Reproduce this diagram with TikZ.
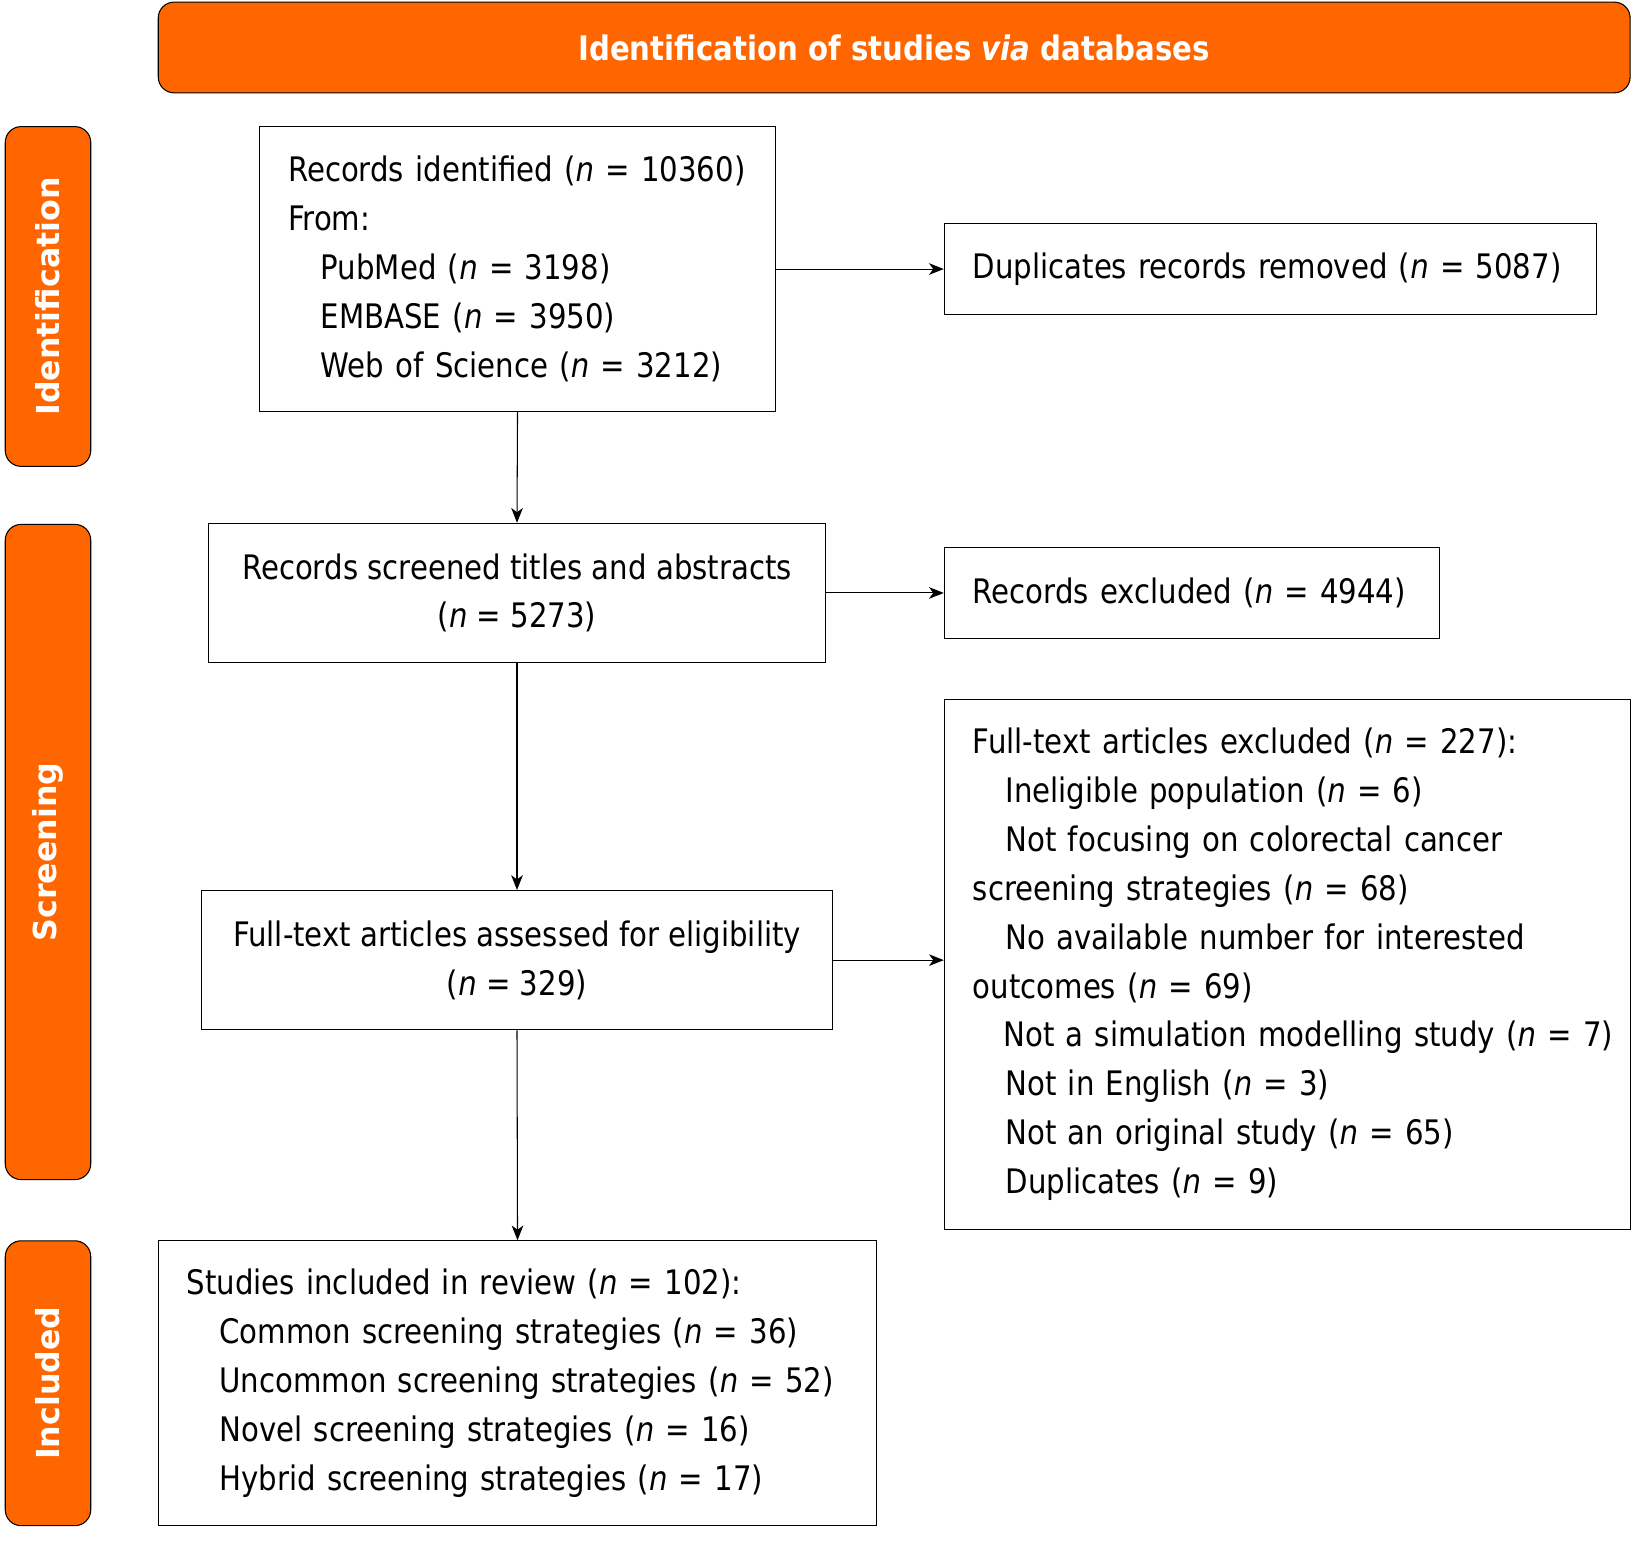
\documentclass[tikz,border=0pt]{standalone}
\usepackage{fontspec}
\setmainfont[FakeStretch=0.865]{DejaVu Sans}
\newfontfamily\sidefont{DejaVu Sans}
\usetikzlibrary{arrows.meta}
\definecolor{prismaorange}{RGB}{255,102,0}
\newcommand{\nn}{\textit{n}}
\begin{document}
\begin{tikzpicture}[x=0.5pt,y=-0.5pt,
  every node/.style={font=\fontsize{16}{23.15}\selectfont},
  phase/.style={draw, line width=0.5pt, fill=prismaorange, rounded corners=7.5pt, text=white},
  sidebox/.style={phase, rotate=90, minimum height=40.5pt, inner sep=0pt, font=\sidefont\bfseries\fontsize{15}{18}\selectfont},
  stepbox/.style={draw, line width=0.5pt, inner sep=0pt},
  leftbox/.style={stepbox, align=left, execute at begin node={\leftskip=13.5pt\relax}},
  arr/.style={line width=0.5pt, -{Stealth[length=7pt, width=5.5pt, inset=2pt]}}]
\useasboundingbox (0,0) rectangle (1561,1460);
\node[phase, minimum width=697.5pt, minimum height=43pt, font=\bfseries\fontsize{16}{20}\selectfont] (head) at (847.5,45) {Identification of studies \textit{via} databases};
\node[sidebox, minimum width=161pt] (sideid) at (45.5,281) {Identification};
\node[sidebox, minimum width=310.5pt] (sidescr) at (45.5,807.5) {Screening};
\node[sidebox, minimum width=135pt] (sideinc) at (45.5,1311) {Included};
\node[leftbox, minimum height=135pt, text width=244.5pt] (ident) at (490.5,255) {Records identified (\nn{} = 10360)\\From:\\\hspace*{15.5pt}PubMed (\nn{} = 3198)\\\hspace*{15.5pt}EMBASE (\nn{} = 3950)\\\hspace*{15.5pt}Web of Science (\nn{} = 3212)};
\node[leftbox, minimum height=43pt, text width=309pt] (dup) at (1204,255) {Duplicates records removed (\nn{} = 5087)};
\node[stepbox, align=center, minimum width=292pt, minimum height=66pt] (screen) at (490,562) {Records screened titles and abstracts\\(\nn{} = 5273)};
\node[leftbox, minimum height=43pt, text width=234.5pt] (excl) at (1129.5,562) {Records excluded (\nn{} = 4944)};
\node[stepbox, align=center, minimum width=299pt, minimum height=66pt] (full) at (490,910) {Full-text articles assessed for eligibility\\(\nn{} = 329)};
\node[leftbox, minimum height=251pt, text width=325pt] (fullexcl) at (1220,914) {Full-text articles excluded (\nn{} = 227):\\\hspace*{15.5pt}Ineligible population (\nn{} = 6)\\\hspace*{15.5pt}Not focusing on colorectal cancer\\screening strategies (\nn{} = 68)\\\hspace*{15.5pt}No available number for interested\\outcomes (\nn{} = 69)\\\hspace*{14.5pt}Not a simulation modelling study (\nn{} = 7)\\\hspace*{15.5pt}Not in English (\nn{} = 3)\\\hspace*{15.5pt}Not an original study (\nn{} = 65)\\\hspace*{15.5pt}Duplicates (\nn{} = 9)};
\node[leftbox, minimum height=135pt, text width=340.5pt] (incl) at (490.5,1311) {Studies included in review (\nn{} = 102):\\\hspace*{15.5pt}Common screening strategies (\nn{} = 36)\\\hspace*{15.5pt}Uncommon screening strategies (\nn{} = 52)\\\hspace*{15.5pt}Novel screening strategies (\nn{} = 16)\\\hspace*{15.5pt}Hybrid screening strategies (\nn{} = 17)};
\draw[arr](ident.south) -- (screen.north);
\draw[arr](ident.east) -- (dup.west);
\draw[arr](screen.east) -- (excl.west);
\draw[arr](screen.south) -- (full.north);
\draw[arr](full.east) -- (full.east -| fullexcl.west);
\draw[arr](full.south) -- (incl.north);
\end{tikzpicture}
\end{document}
